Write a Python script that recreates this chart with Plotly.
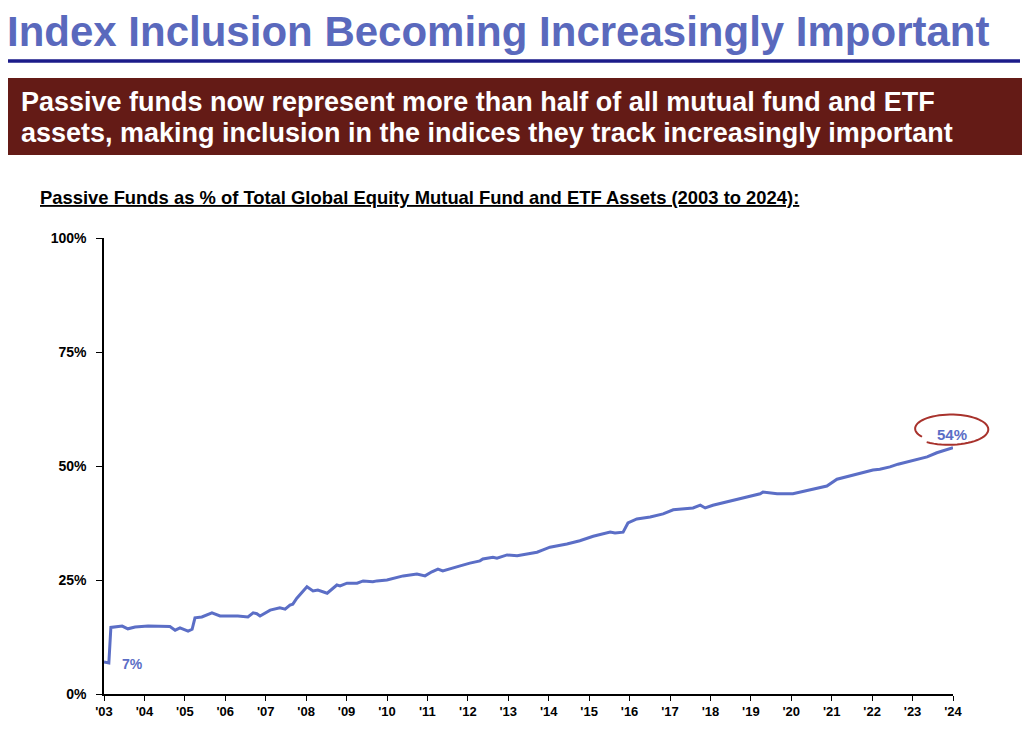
import math
import plotly.graph_objects as go

# ---- data ----
years = [2003.00, 2003.12, 2003.17, 2003.45, 2003.59, 2003.77, 2004.09, 2004.43, 2004.63, 2004.76,
         2004.88, 2005.08, 2005.18, 2005.25, 2005.42, 2005.67, 2005.87, 2006.31, 2006.56, 2006.69,
         2006.78, 2006.86, 2007.11, 2007.35, 2007.48, 2007.60, 2007.67, 2007.77, 2008.02, 2008.17,
         2008.29, 2008.52, 2008.76, 2008.84, 2009.01, 2009.26, 2009.41, 2009.65, 2009.75, 2010.00,
         2010.15, 2010.40, 2010.74, 2010.94, 2011.11, 2011.26, 2011.38, 2011.56, 2011.81, 2012.05,
         2012.30, 2012.37, 2012.62, 2012.72, 2012.97, 2013.22, 2013.46, 2013.71, 2013.86, 2014.03,
         2014.45, 2014.77, 2015.10, 2015.44, 2015.52, 2015.64, 2015.84, 2015.96, 2016.18, 2016.51,
         2016.83, 2017.08, 2017.57, 2017.75, 2017.87, 2018.06, 2018.56, 2018.90, 2019.23, 2019.30,
         2019.65, 2020.04, 2020.14, 2020.29, 2020.88, 2021.13, 2021.53, 2022.02, 2022.19, 2022.44,
         2022.64, 2023.01, 2023.36, 2023.60, 2023.92, 2024.00]
passive_pct = [7.0, 6.8, 14.6, 14.9, 14.3, 14.7, 14.9, 14.9, 14.8, 14.0,
               14.5, 13.8, 14.2, 16.7, 16.9, 17.8, 17.1, 17.1, 16.9, 17.8,
               17.6, 17.1, 18.4, 18.9, 18.6, 19.5, 19.7, 21.0, 23.5, 22.6,
               22.8, 22.1, 23.9, 23.7, 24.3, 24.3, 24.8, 24.6, 24.8, 25.0,
               25.4, 25.9, 26.3, 25.9, 26.8, 27.4, 27.0, 27.4, 28.1, 28.7,
               29.2, 29.6, 30.0, 29.8, 30.5, 30.3, 30.7, 31.1, 31.6, 32.2,
               32.9, 33.6, 34.6, 35.3, 35.5, 35.3, 35.5, 37.5, 38.4, 38.8,
               39.5, 40.4, 40.8, 41.4, 40.8, 41.4, 42.5, 43.2, 43.9, 44.3,
               43.9, 43.9, 44.1, 44.5, 45.6, 47.1, 48.0, 49.1, 49.3, 49.8,
               50.4, 51.3, 52.0, 52.9, 53.9, 54.0]

tick_years = list(range(2003, 2025))
tick_labels = ["'" + str(y)[2:] for y in tick_years]
y_ticks = [0, 25, 50, 75, 100]
y_tick_labels = ["0%", "25%", "50%", "75%", "100%"]

title_text = "Index Inclusion Becoming Increasingly Important"
banner_line1 = "Passive funds now represent more than half of all mutual fund and ETF"
banner_line2 = "assets, making inclusion in the indices they track increasingly important"
chart_title = "Passive Funds as % of Total Global Equity Mutual Fund and ETF Assets (2003 to 2024):"
start_label = "7%"
end_label = "54%"

# ---- layout geometry (screen pixels; page body has an 8px margin) ----
OFF = 8
W, H = 1030 - 2 * OFF, 732 - 2 * OFF
L, R, T, B = 104, 953, 238, 694


def px(x):
    return (x - L) / (R - L)


def py(y):
    return (B - y) / (B - T)


LINE_BLUE = "#5B6EC6"
FONT = "Liberation Sans, Arial, sans-serif"

fig = go.Figure()
fig.add_trace(go.Scatter(x=years, y=passive_pct, mode="lines",
                         line=dict(color=LINE_BLUE, width=3), hoverinfo="skip"))

fig.update_layout(
    width=W, height=H,
    margin=dict(l=L - OFF, r=W - (R - OFF), t=T - OFF, b=H - (B - OFF), autoexpand=False),
    paper_bgcolor="white", plot_bgcolor="white",
    showlegend=False,
    font=dict(family=FONT, color="black"),
    xaxis=dict(range=[2003, 2024], tickvals=tick_years, ticktext=tick_labels,
               showgrid=False, zeroline=False, showline=True, linecolor="black", linewidth=1.5,
               ticks="outside", ticklen=5, tickcolor="black", tickwidth=1,
               tickfont=dict(size=13, family=FONT, color="black", weight="bold")),
    yaxis=dict(range=[0, 100], tickvals=y_ticks, ticktext=y_tick_labels,
               showgrid=False, zeroline=False, showline=True, linecolor="black", linewidth=1.5,
               ticks="outside", ticklen=6, tickcolor="black", tickwidth=1, ticklabelstandoff=7,
               tickfont=dict(size=14, family=FONT, color="black", weight="bold")),
)

# hand-drawn style open ellipse around the 54% label (screen px -> paper)
cx, cy, rx, ry = 950, 429, 38, 15
pts = []
n = 60
for i in range(n + 1):
    t = i / n
    ang = math.radians(125 - t * 340)
    scale = 1.07 - 0.17 * t
    x = cx + rx * scale * math.cos(ang)
    y = cy + ry * scale * math.sin(ang)
    pts.append((px(x), py(y)))
ellipse_path = "M " + " L ".join(f"{a:.5f},{b:.5f}" for a, b in pts)

shapes = [
    # navy rule under title
    dict(type="line", xref="paper", yref="paper",
         x0=px(5), x1=px(1020), y0=py(61), y1=py(61),
         line=dict(color="#1B1B8A", width=3.5)),
    # maroon banner
    dict(type="rect", xref="paper", yref="paper",
         x0=px(7), x1=px(1022), y0=py(155), y1=py(78),
         fillcolor="#641B16", line=dict(width=0), layer="below"),
    dict(type="path", xref="paper", yref="paper", path=ellipse_path,
         line=dict(color="#A8322C", width=2)),
]
fig.update_layout(shapes=shapes)

annotations = [
    dict(text="<b>" + title_text + "</b>", xref="paper", yref="paper",
         x=px(5), y=py(31), xanchor="left", yanchor="middle", showarrow=False,
         font=dict(size=42, color="#5A69BD", family=FONT)),
    dict(text="<b>" + banner_line1 + "</b>", xref="paper", yref="paper",
         x=px(19), y=py(102), xanchor="left", yanchor="middle", showarrow=False,
         font=dict(size=27, color="white", family=FONT)),
    dict(text="<b>" + banner_line2 + "</b>", xref="paper", yref="paper",
         x=px(19), y=py(133), xanchor="left", yanchor="middle", showarrow=False,
         font=dict(size=27, color="white", family=FONT)),
    dict(text="<b><u>" + chart_title + "</u></b>", xref="paper", yref="paper",
         x=px(38), y=py(197), xanchor="left", yanchor="middle", showarrow=False,
         font=dict(size=18.4, color="black", family=FONT)),
    dict(text="<b>" + start_label + "</b>", xref="x", yref="y",
         x=2003.7, y=6.5, xanchor="center", yanchor="middle", showarrow=False,
         font=dict(size=14, color=LINE_BLUE, family=FONT)),
    dict(text="<b>" + end_label + "</b>", xref="paper", yref="paper",
         x=px(952), y=py(434), xanchor="center", yanchor="middle", showarrow=False,
         font=dict(size=15, color=LINE_BLUE, family=FONT)),
]
fig.update_layout(annotations=annotations)

fig.write_html("out.html")
